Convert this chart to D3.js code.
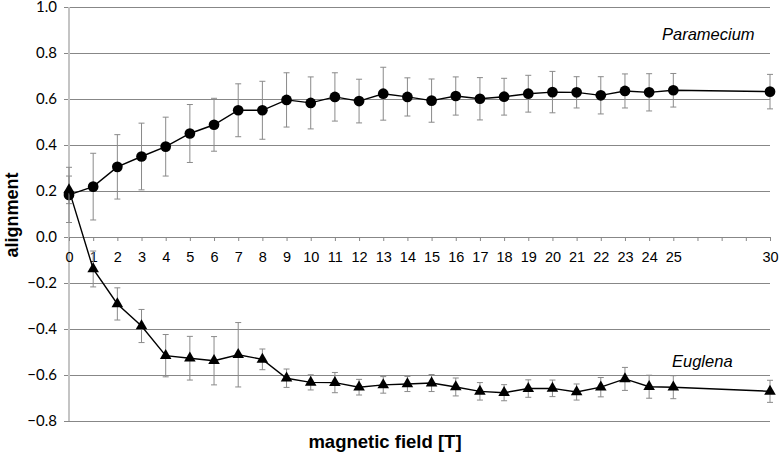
<!DOCTYPE html>
<html>
<head>
<meta charset="utf-8">
<script src="https://cdn.jsdelivr.net/npm/d3@7"></script>
<style>
  body { margin: 0; background: #fff; }
  svg { display: block; }
</style>
</head>
<body>
<svg id="chart" width="781" height="452"></svg>
<script>
// category axis: 0..25, three empty slots, then 30
const categories = ["0","1","2","3","4","5","6","7","8","9","10","11","12","13","14","15","16","17","18","19","20","21","22","23","24","25","","","","30"];

const paramecium    = [0.183,0.219,0.305,0.350,0.393,0.450,0.488,0.551,0.551,0.596,0.583,0.609,0.591,0.623,0.609,0.593,0.613,0.601,0.610,0.623,0.630,0.629,0.616,0.635,0.629,0.638,null,null,null,0.632];
const parameciumErr = [0.120,0.145,0.140,0.145,0.128,0.126,0.115,0.115,0.126,0.118,0.113,0.105,0.095,0.115,0.083,0.094,0.083,0.092,0.080,0.080,0.090,0.068,0.081,0.074,0.081,0.073,null,null,null,0.075];

const euglena    = [0.205,-0.139,-0.291,-0.387,-0.516,-0.527,-0.538,-0.512,-0.532,-0.614,-0.632,-0.633,-0.653,-0.643,-0.639,-0.635,-0.652,-0.671,-0.677,-0.659,-0.658,-0.674,-0.653,-0.617,-0.651,-0.653,null,null,null,-0.671];
const euglenaErr = [0.060,0.078,0.070,0.072,0.092,0.095,0.105,0.140,0.045,0.040,0.033,0.044,0.034,0.036,0.033,0.037,0.039,0.038,0.035,0.038,0.036,0.035,0.042,0.050,0.050,0.050,null,null,null,0.048];

const yTicks = [-0.8,-0.6,-0.4,-0.2,0,0.2,0.4,0.6,0.8,1.0];

const svg = d3.select("#chart");
const plotLeft = 69, plotRight = 770, plotTop = 7, plotBottom = 421;

const x = d3.scalePoint()
    .domain(d3.range(categories.length))
    .range([plotLeft, plotRight]);

const y = d3.scaleLinear()
    .domain([-0.8, 1.0])
    .range([plotBottom, plotTop]);

// horizontal gridlines + y labels
const yAxis = svg.append("g")
    .attr("transform", `translate(${plotRight},0)`)
    .call(d3.axisLeft(y)
        .tickValues(yTicks)
        .tickSize(plotRight - plotLeft + 5)
        .tickPadding(7)
        .tickFormat(d3.format(".1f")));
yAxis.select(".domain").remove();
yAxis.selectAll("line").attr("stroke", "#878787").attr("stroke-width", 1);
yAxis.selectAll("text")
    .attr("fill", "#000")
    .style("font-family", "Lato, 'Open Sans', sans-serif")
    .style("font-size", "15px");

// vertical axis line
svg.append("line")
    .attr("x1", plotLeft).attr("x2", plotLeft)
    .attr("y1", plotTop).attr("y2", plotBottom)
    .attr("stroke", "#c4c4c4")
    .attr("stroke-width", 2);

// category axis crossing at 0
const xAxis = svg.append("g")
    .attr("transform", `translate(0,${y(0)})`)
    .call(d3.axisBottom(x)
        .tickSizeInner(4)
        .tickSizeOuter(0)
        .tickPadding(11)
        .tickFormat(i => categories[i]));
xAxis.select(".domain").attr("stroke", "#878787");
xAxis.selectAll("line").attr("stroke", "#878787");
xAxis.selectAll("text")
    .attr("fill", "#000")
    .style("font-family", "'Liberation Sans', Arial, sans-serif")
    .style("font-size", "14.5px");

function rows(vals, errs) {
    return vals.map((v, i) => ({ i, v, e: errs[i] })).filter(d => d.v != null);
}

const line = d3.line()
    .x(d => x(d.i))
    .y(d => y(d.v));

function drawSeries(data, symbol, size) {
    const g = svg.append("g");

    const bars = g.selectAll("g.err").data(data).enter()
        .append("g").attr("class", "err")
        .attr("stroke", "#8a8a8a")
        .attr("stroke-width", 1);
    bars.append("line")
        .attr("x1", d => x(d.i)).attr("x2", d => x(d.i))
        .attr("y1", d => y(d.v + d.e)).attr("y2", d => y(d.v - d.e));
    bars.append("line")
        .attr("x1", d => x(d.i) - 3).attr("x2", d => x(d.i) + 3)
        .attr("y1", d => y(d.v + d.e)).attr("y2", d => y(d.v + d.e));
    bars.append("line")
        .attr("x1", d => x(d.i) - 3).attr("x2", d => x(d.i) + 3)
        .attr("y1", d => y(d.v - d.e)).attr("y2", d => y(d.v - d.e));

    g.append("path")
        .datum(data)
        .attr("d", line)
        .attr("fill", "none")
        .attr("stroke", "#000")
        .attr("stroke-width", 1.4);

    g.selectAll("path.mark").data(data).enter()
        .append("path")
        .attr("class", "mark")
        .attr("d", d3.symbol().type(symbol).size(size))
        .attr("transform", d => `translate(${x(d.i)},${y(d.v)})`)
        .attr("fill", "#000");
}

drawSeries(rows(paramecium, parameciumErr), d3.symbolCircle, 90);
drawSeries(rows(euglena, euglenaErr), d3.symbolTriangle, 58);

// series labels
svg.append("text")
    .attr("x", 662).attr("y", 40)
    .style("font-family", "'Liberation Sans', Arial, sans-serif")
    .style("font-style", "italic")
    .style("font-size", "16.5px")
    .text("Paramecium");

svg.append("text")
    .attr("x", 672).attr("y", 367)
    .style("font-family", "'Liberation Sans', Arial, sans-serif")
    .style("font-style", "italic")
    .style("font-size", "16.5px")
    .text("Euglena");

// axis titles
svg.append("text")
    .attr("x", 385).attr("y", 448)
    .attr("text-anchor", "middle")
    .style("font-family", "'Liberation Sans', Arial, sans-serif")
    .style("font-weight", "bold")
    .style("font-size", "18.5px")
    .text("magnetic field [T]");

svg.append("text")
    .attr("transform", "translate(18,215) rotate(-90)")
    .attr("text-anchor", "middle")
    .style("font-family", "'Liberation Sans', Arial, sans-serif")
    .style("font-weight", "bold")
    .style("font-size", "18px")
    .text("alignment");
</script>
</body>
</html>
